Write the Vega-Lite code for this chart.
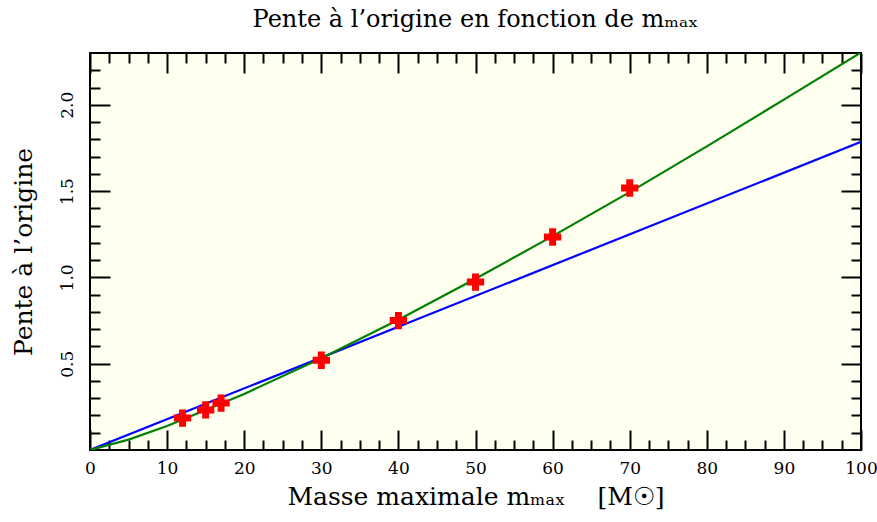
{
  "$schema": "https://vega.github.io/schema/vega-lite/v6.json",
  "width": 771,
  "height": 397,
  "autosize": {"type": "none"},
  "padding": {"left": 90, "top": 53, "right": 16, "bottom": 72},
  "background": "white",
  "title": {
    "text": "Pente à l’origine en fonction de mₘₐₓ",
    "font": "DejaVu Serif",
    "fontSize": 24,
    "fontWeight": "normal",
    "color": "black",
    "offset": 20
  },
  "config": {
    "view": {"fill": "#fffff0", "stroke": "black", "strokeWidth": 2},
    "axis": {
      "domain": false,
      "grid": false,
      "tickColor": "black",
      "tickWidth": 2,
      "labelFont": "DejaVu Serif",
      "labelFontSize": 17,
      "labelColor": "black",
      "labelFlush": false,
      "titleFont": "DejaVu Serif",
      "titleFontSize": 25,
      "titleFontWeight": "normal",
      "titleColor": "black"
    }
  },
  "datasets": {
    "bleu": [
      {"m": 0, "pente": 0},
      {"m": 100, "pente": 1.785}
    ],
    "vert": [
      {"m": 0, "pente": 0},
      {"m": 5, "pente": 0.06},
      {"m": 10, "pente": 0.139},
      {"m": 20, "pente": 0.325},
      {"m": 30, "pente": 0.532},
      {"m": 40, "pente": 0.755},
      {"m": 50, "pente": 0.992},
      {"m": 60, "pente": 1.239},
      {"m": 70, "pente": 1.494},
      {"m": 80, "pente": 1.759},
      {"m": 90, "pente": 2.03},
      {"m": 100, "pente": 2.303}
    ],
    "points": [
      {"m": 12, "pente": 0.185},
      {"m": 15, "pente": 0.232},
      {"m": 17, "pente": 0.272},
      {"m": 30, "pente": 0.52},
      {"m": 40, "pente": 0.75},
      {"m": 50, "pente": 0.973},
      {"m": 60, "pente": 1.234},
      {"m": 70, "pente": 1.518}
    ]
  },
  "layer": [
    {
      "data": {"name": "bleu"},
      "mark": {"type": "line", "color": "#0000ff", "strokeWidth": 2.2, "clip": true},
      "encoding": {
        "x": {
          "field": "m", "type": "quantitative",
          "scale": {"domain": [0, 100], "nice": false, "zero": false},
          "axis": {
            "orient": "bottom",
            "values": [0, 10, 20, 30, 40, 50, 60, 70, 80, 90, 100],
            "tickSize": -20,
            "labelPadding": 30,
            "title": "Masse maximale mₘₐₓ\u00a0\u00a0\u00a0\u00a0[M☉]",
            "titlePadding": 8
          }
        },
        "y": {
          "field": "pente", "type": "quantitative",
          "scale": {"domain": [0, 2.3], "nice": false, "zero": false},
          "axis": {
            "orient": "left",
            "values": [0.5, 1.0, 1.5, 2.0],
            "format": ".1f",
            "tickSize": -20,
            "labelAngle": -90,
            "labelAlign": "center",
            "labelBaseline": "bottom",
            "labelPadding": 34,
            "title": "Pente à l’origine",
            "titlePadding": 22
          }
        }
      }
    },
    {
      "data": {"name": "vert"},
      "mark": {"type": "line", "color": "#008000", "strokeWidth": 2.2, "clip": true},
      "encoding": {
        "x": {
          "field": "m", "type": "quantitative",
          "scale": {"domain": [0, 100], "nice": false, "zero": false},
          "axis": {
            "orient": "top",
            "values": [0, 10, 20, 30, 40, 50, 60, 70, 80, 90, 100],
            "tickSize": -20,
            "labels": false,
            "title": null
          }
        },
        "y": {
          "field": "pente", "type": "quantitative",
          "scale": {"domain": [0, 2.3], "nice": false, "zero": false},
          "axis": {
            "orient": "right",
            "values": [0.5, 1.0, 1.5, 2.0],
            "tickSize": -20,
            "labels": false,
            "title": null
          }
        }
      }
    },
    {
      "data": {"name": "points"},
      "mark": {"type": "point", "shape": "cross", "filled": true, "color": "#ff0000", "opacity": 1, "size": 300},
      "encoding": {
        "x": {
          "field": "m", "type": "quantitative",
          "scale": {"domain": [0, 100], "nice": false, "zero": false},
          "axis": {
            "orient": "bottom",
            "values": [2.5, 5, 7.5, 12.5, 15, 17.5, 22.5, 25, 27.5, 32.5, 35, 37.5, 42.5, 45, 47.5, 52.5, 55, 57.5, 62.5, 65, 67.5, 72.5, 75, 77.5, 82.5, 85, 87.5, 92.5, 95, 97.5],
            "tickSize": -10,
            "labels": false,
            "title": null
          }
        },
        "y": {
          "field": "pente", "type": "quantitative",
          "scale": {"domain": [0, 2.3], "nice": false, "zero": false},
          "axis": {
            "orient": "left",
            "values": [0.1, 0.2, 0.3, 0.4, 0.6, 0.7, 0.8, 0.9, 1.1, 1.2, 1.3, 1.4, 1.6, 1.7, 1.8, 1.9, 2.1, 2.2],
            "tickSize": -10,
            "labels": false,
            "title": null
          }
        }
      }
    },
    {
      "data": {"name": "points"},
      "mark": {"type": "point", "opacity": 0},
      "encoding": {
        "x": {
          "field": "m", "type": "quantitative",
          "scale": {"domain": [0, 100], "nice": false, "zero": false},
          "axis": {
            "orient": "top",
            "values": [2.5, 5, 7.5, 12.5, 15, 17.5, 22.5, 25, 27.5, 32.5, 35, 37.5, 42.5, 45, 47.5, 52.5, 55, 57.5, 62.5, 65, 67.5, 72.5, 75, 77.5, 82.5, 85, 87.5, 92.5, 95, 97.5],
            "tickSize": -10,
            "labels": false,
            "title": null
          }
        },
        "y": {
          "field": "pente", "type": "quantitative",
          "scale": {"domain": [0, 2.3], "nice": false, "zero": false},
          "axis": {
            "orient": "right",
            "values": [0.1, 0.2, 0.3, 0.4, 0.6, 0.7, 0.8, 0.9, 1.1, 1.2, 1.3, 1.4, 1.6, 1.7, 1.8, 1.9, 2.1, 2.2],
            "tickSize": -10,
            "labels": false,
            "title": null
          }
        }
      }
    }
  ],
  "resolve": {"axis": {"x": "independent", "y": "independent"}}
}
